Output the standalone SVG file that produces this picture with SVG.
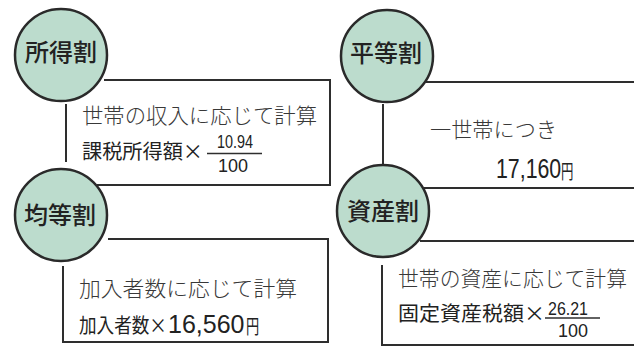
<svg xmlns="http://www.w3.org/2000/svg" width="634" height="349" viewBox="0 0 634 349">
<style>
.bg{fill:#ffffff}
.circ{fill:#bcdccd;stroke:#2a2a2a;stroke-width:2.5}
.lbl{font-family:"Noto Sans CJK JP","Noto Sans",sans-serif;font-size:24px;font-weight:500;fill:#222;text-anchor:middle}
.ln{fill:none;stroke:#2e2e2e;stroke-width:2}
.frac{stroke:#2e2e2e;stroke-width:1.5}
.thin{font-family:"Noto Sans CJK JP","Noto Sans",sans-serif;font-size:21px;font-weight:300;fill:#383838}
.goth{font-family:"Noto Sans CJK JP","Noto Sans",sans-serif;font-size:20px;font-weight:400;fill:#222}
.dig{font-family:"Liberation Sans",Arial,sans-serif;font-weight:400;fill:#222}
.num{font-family:"Liberation Sans",Arial,sans-serif;font-size:18px;font-weight:400;fill:#222}
</style>
<rect class="bg" x="0" y="0" width="634" height="349"/>
<g id="connectors">
  <polyline class="ln" points="104,80 330,80 330,185 97,185"/>
  <line class="ln" x1="66" y1="104" x2="66" y2="162"/>
  <polyline class="ln" points="108,239 328,239 328,342 63,342 63,266"/>
  <polyline class="ln" points="426,82 634,82"/>
  <polyline class="ln" points="424,188 634,188"/>
  <line class="ln" x1="383" y1="104" x2="383" y2="165"/>
  <polyline class="ln" points="420,241 634,241"/>
  <polyline class="ln" points="382,265 382,345 634,345"/>
</g>
<g id="node-shotokuwari">
  <circle class="circ" cx="61" cy="55" r="46"/>
  <text class="lbl" x="61" y="61">所得割</text>
</g>
<g id="node-heitouwari">
  <circle class="circ" cx="387" cy="56" r="46"/>
  <text class="lbl" x="386" y="62">平等割</text>
</g>
<g id="node-kintouwari">
  <circle class="circ" cx="61" cy="215" r="46"/>
  <text class="lbl" x="60" y="224">均等割</text>
</g>
<g id="node-shisanwari">
  <circle class="circ" cx="383" cy="211" r="46"/>
  <text class="lbl" x="383" y="220">資産割</text>
</g>
<g id="box-shotokuwari">
  <text class="thin" x="82" y="123" textLength="235" lengthAdjust="spacingAndGlyphs">世帯の収入に応じて計算</text>
  <text class="goth" x="82" y="159" textLength="121" lengthAdjust="spacingAndGlyphs">課税所得額×</text>
  <text class="num" x="217" y="148" textLength="36" lengthAdjust="spacingAndGlyphs">10.94</text>
  <line class="frac" x1="207" y1="153.5" x2="262" y2="153.5"/>
  <text class="num" x="218" y="172" textLength="30" lengthAdjust="spacingAndGlyphs">100</text>
</g>
<g id="box-heitouwari">
  <text class="thin" x="430" y="137" textLength="127" lengthAdjust="spacingAndGlyphs">一世帯につき</text>
  <text class="dig" font-size="27" transform="translate(496,178) scale(0.79,1)">17,160</text>
  <text class="goth" font-size="23" transform="translate(561,179) scale(0.62,1)">円</text>
</g>
<g id="box-kintouwari">
  <text class="thin" x="79" y="296" textLength="218" lengthAdjust="spacingAndGlyphs">加入者数に応じて計算</text>
  <text class="goth" transform="translate(79,333) scale(0.88,1)">加入者数×</text>
  <text class="dig" font-size="25" x="168" y="333">16,560</text>
  <text class="goth" font-size="22" transform="translate(246,334) scale(0.66,1)">円</text>
</g>
<g id="box-shisanwari">
  <text class="thin" x="398" y="286" textLength="229" lengthAdjust="spacingAndGlyphs">世帯の資産に応じて計算</text>
  <text class="goth" x="398" y="321" textLength="147" lengthAdjust="spacingAndGlyphs">固定資産税額×</text>
  <text class="num" x="548" y="315" textLength="40" lengthAdjust="spacingAndGlyphs">26.21</text>
  <line class="frac" x1="545" y1="318" x2="600" y2="318"/>
  <text class="num" x="558" y="337" textLength="30" lengthAdjust="spacingAndGlyphs">100</text>
</g>
</svg>
